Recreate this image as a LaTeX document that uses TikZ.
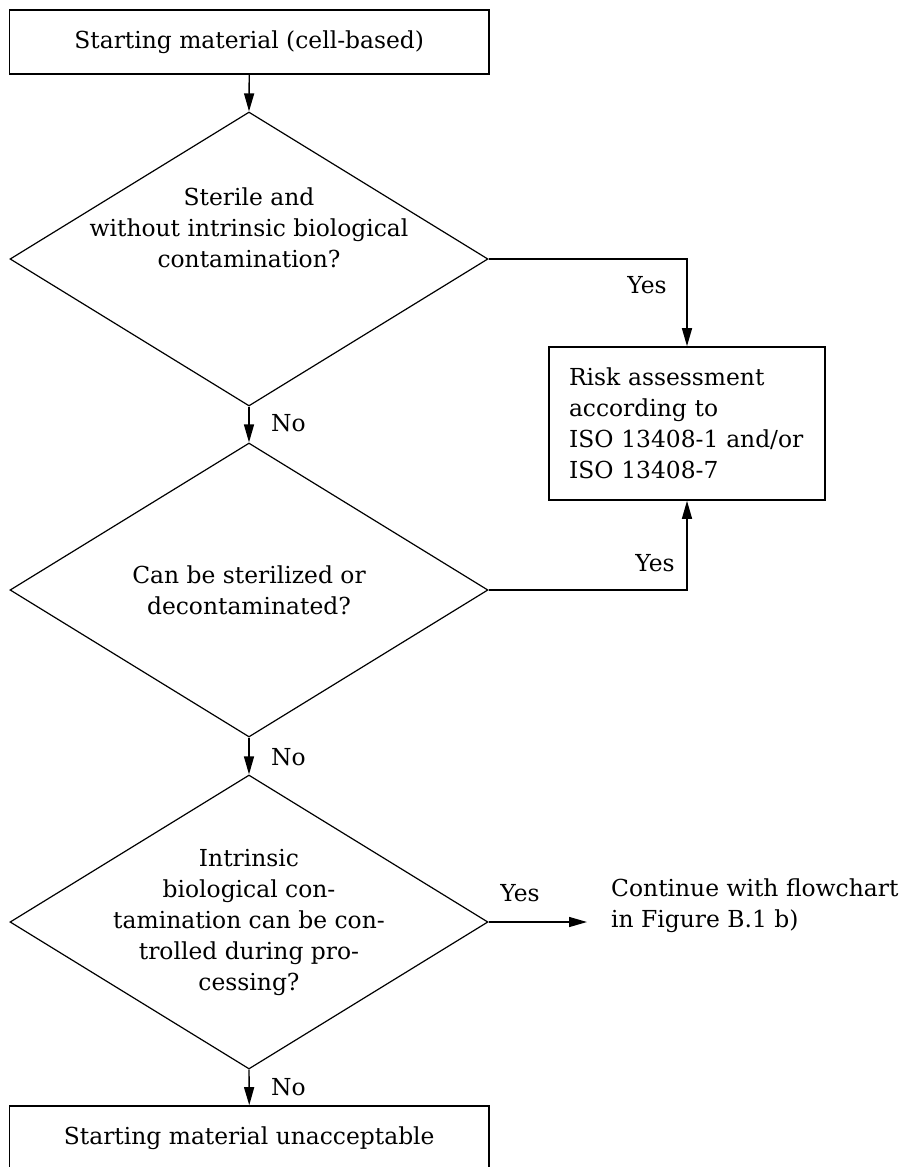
\documentclass[tikz,border=0pt]{standalone}
\usepackage{fontspec}
\setmainfont{DejaVu Serif}
\usetikzlibrary{arrows.meta,shapes.geometric}
\begin{document}
\begin{tikzpicture}[x=1pt,y=-1pt,
  every node/.style={font=\fontsize{23.4}{31}\selectfont, text=black},
  boxnode/.style={draw, line width=1.6pt, minimum width=479.5pt, minimum height=64pt, inner sep=0pt},
  dia/.style={draw, shape=diamond, line width=1.2pt, minimum width=478pt, minimum height=294pt, inner sep=0pt},
  txt/.style={align=center, inner sep=0pt},
  conn/.style={line width=1.4pt, -{Triangle[length=18pt,width=10pt]}},
  lab/.style={inner sep=0pt}]
\useasboundingbox (0,0) rectangle (913,1167);
\fill[white] (0,0) rectangle (913,1167);

\node[boxnode] (top) at (249.25,42) {Starting material (cell-based)};

\node[dia] (d1) at (249,259) {};
\node[txt] (d1t) at (249,228) {Sterile and\\without intrinsic biological\\contamination?};

\node[dia] (d2) at (249,590) {};
\node[txt] (d2t) at (249,590) {Can be sterilized or\\decontaminated?};

\node[dia] (d3) at (249,922) {};
\node[txt] (d3t) at (249,922) {Intrinsic\\biological con-\\tamination can be con-\\trolled during pro-\\cessing?};

\node[boxnode] (bot) at (249.25,1138) {Starting material unacceptable};

\node[draw, line width=1.6pt, minimum width=276pt, minimum height=153pt, text width=236pt, align=left, inner sep=0pt] (risk) at (687,423.5) {Risk assessment\\according to\\ISO 13408-1 and/or\\ISO 13408-7};

\node[lab, anchor=west, align=left] (cont) at (611,906) {Continue with flowchart\\in Figure B.1 b)};

\draw[conn] (top.south) -- (d1.north);
\draw[conn] (d1.south) -- (d2.north);
\draw[conn] (d2.south) -- (d3.north);
\draw[conn] (d3.south) -- (bot.north);
\draw[conn] (d1.east) -| (risk.north);
\draw[conn] (d2.east) -| (risk.south);
\draw[conn, shorten >=24pt] (d3.east) -- (d3.east -| cont.west);

\node[lab] (y1) at (647,285) {Yes};
\node[lab] (y2) at (655,563) {Yes};
\node[lab] (y3) at (520,893) {Yes};
\node[lab, anchor=west] (n1) at (271,423) {No};
\node[lab, anchor=west] (n2) at (271,757) {No};
\node[lab, anchor=west] (n3) at (271,1087) {No};
\end{tikzpicture}
\end{document}
